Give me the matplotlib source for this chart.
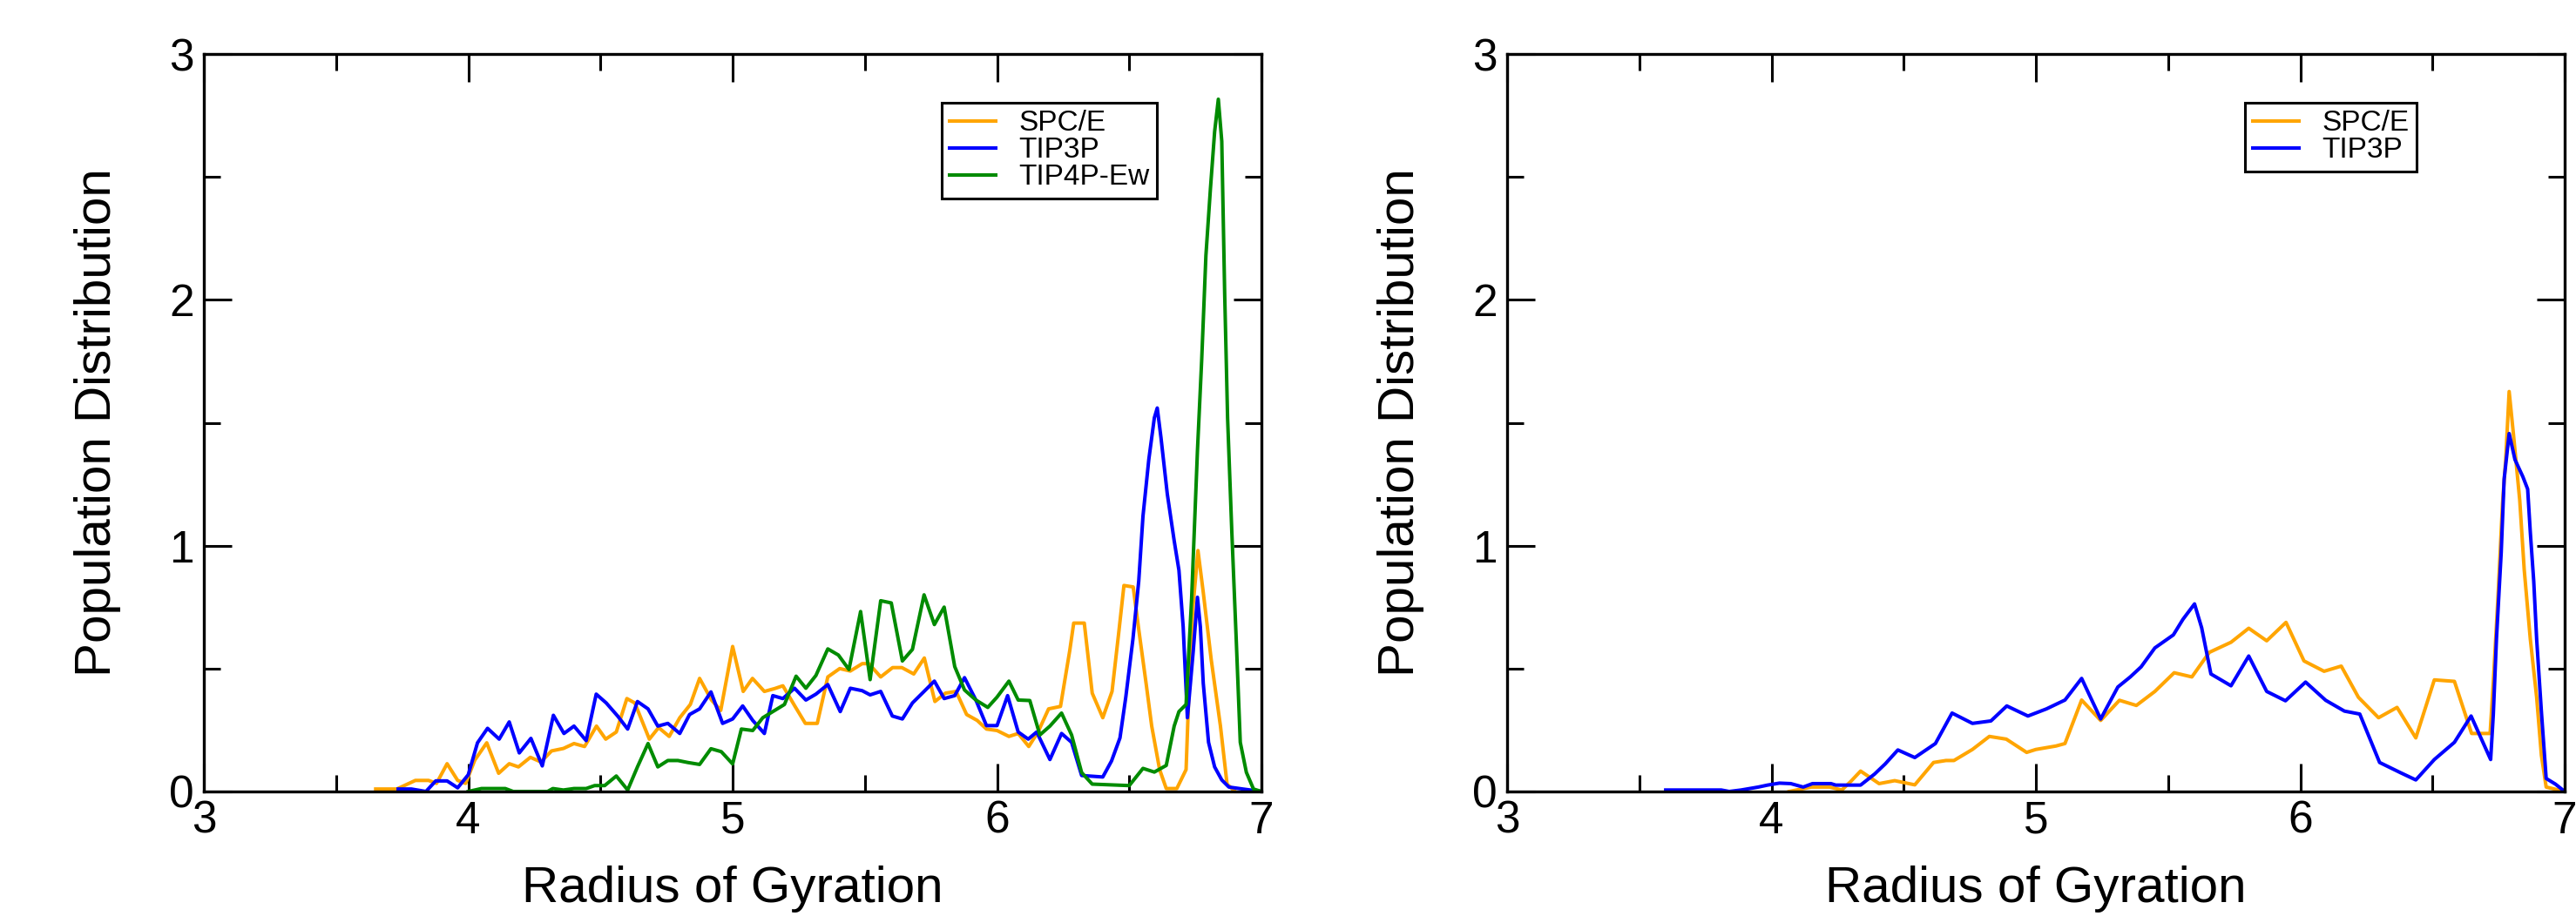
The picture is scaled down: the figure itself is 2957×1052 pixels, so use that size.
import matplotlib
matplotlib.use("Agg")
import matplotlib.pyplot as plt
from matplotlib.ticker import MultipleLocator

plt.rcParams['font.family'] = ['Liberation Sans', 'DejaVu Sans']

# ---------------- Left panel data ----------------
left_spce_x = [3.65, 3.73, 3.80, 3.85, 3.88, 3.92, 3.96, 3.99, 4.025, 4.07, 4.115, 4.155, 4.19, 4.235,
               4.275, 4.315, 4.36, 4.40, 4.44, 4.485, 4.52, 4.56, 4.60, 4.63, 4.685, 4.72, 4.76, 4.80,
               4.84, 4.875, 4.92, 4.955, 5.0, 5.04, 5.075, 5.12, 5.16, 5.19, 5.235, 5.275, 5.32, 5.36,
               5.405, 5.445, 5.49, 5.515, 5.56, 5.605, 5.64, 5.685, 5.725, 5.765, 5.805, 5.845, 5.885,
               5.925, 5.96, 6.0, 6.045, 6.08, 6.12, 6.155, 6.195, 6.24, 6.275, 6.29, 6.33, 6.36, 6.40,
               6.435, 6.46, 6.48, 6.515, 6.535, 6.565, 6.585, 6.615, 6.64, 6.68, 6.715, 6.725, 6.74,
               6.76, 6.78, 6.81, 6.845, 6.87, 6.90]
left_spce_y = [0.01, 0.01, 0.045, 0.045, 0.033, 0.113, 0.045, 0.033, 0.128, 0.198, 0.074, 0.113, 0.10, 0.139,
               0.12, 0.165, 0.175, 0.195, 0.183, 0.266, 0.213, 0.242, 0.378, 0.36, 0.213, 0.26, 0.224, 0.30,
               0.354, 0.46, 0.372, 0.33, 0.59, 0.407, 0.46, 0.407, 0.419, 0.43, 0.348, 0.277, 0.277, 0.466,
               0.50, 0.49, 0.52, 0.52, 0.466, 0.504, 0.504, 0.478, 0.543, 0.366, 0.40, 0.407, 0.313,
               0.289, 0.254, 0.248, 0.224, 0.236, 0.183, 0.242, 0.336, 0.346, 0.573, 0.685, 0.685, 0.40, 0.30,
               0.407, 0.643, 0.838, 0.832, 0.667, 0.43, 0.266, 0.089, 0.012, 0.012, 0.089, 0.384, 0.738,
               0.98, 0.81, 0.537, 0.266, 0.03, 0.0]

left_tip3p_x = [3.735, 3.785, 3.84, 3.877, 3.92, 3.96, 4.0, 4.035, 4.073, 4.117, 4.155, 4.193, 4.237, 4.28,
                4.322, 4.362, 4.40, 4.446, 4.484, 4.522, 4.565, 4.603, 4.64, 4.68, 4.717, 4.755, 4.80,
                4.837, 4.875, 4.918, 4.962, 5.0, 5.038, 5.076, 5.12, 5.152, 5.19, 5.234, 5.277, 5.315,
                5.36, 5.407, 5.445, 5.49, 5.52, 5.56, 5.604, 5.642, 5.68, 5.724, 5.763, 5.80, 5.84, 5.877,
                5.92, 5.96, 6.0, 6.04, 6.08, 6.118, 6.15, 6.2, 6.244, 6.282, 6.32, 6.40, 6.433, 6.465,
                6.487, 6.514, 6.536, 6.552, 6.574, 6.595, 6.606, 6.62, 6.644, 6.67, 6.688, 6.704, 6.72,
                6.742, 6.758, 6.769, 6.78, 6.80, 6.823, 6.85, 6.877, 6.93, 7.0]
left_tip3p_y = [0.01, 0.01, 0.0, 0.043, 0.043, 0.015, 0.068, 0.198, 0.257, 0.213, 0.283, 0.157, 0.216, 0.104,
                0.31, 0.236, 0.266, 0.207, 0.396, 0.36, 0.307, 0.254, 0.366, 0.336, 0.266, 0.277, 0.236,
                0.313, 0.336, 0.405, 0.277, 0.295, 0.348, 0.289, 0.236, 0.39, 0.378, 0.42, 0.372, 0.396,
                0.435, 0.325, 0.42, 0.41, 0.393, 0.407, 0.307, 0.295, 0.36, 0.407, 0.449, 0.378, 0.39, 0.463,
                0.372, 0.268, 0.268, 0.39, 0.242, 0.213, 0.242, 0.13, 0.236, 0.20, 0.065, 0.059, 0.124, 0.218,
                0.384, 0.62, 0.856, 1.12, 1.35, 1.52, 1.56, 1.44, 1.21, 1.02, 0.90, 0.67, 0.30,
                0.57, 0.79, 0.67, 0.44, 0.20, 0.10, 0.047, 0.018, 0.01, 0.0]

left_tip4p_x = [4.0, 4.05, 4.14, 4.17, 4.30, 4.32, 4.36, 4.40, 4.446, 4.478, 4.516, 4.56, 4.603, 4.64, 4.68,
                4.717, 4.755, 4.793, 4.83, 4.875, 4.918, 4.957, 5.0, 5.033, 5.076, 5.114, 5.152, 5.196,
                5.24, 5.277, 5.315, 5.36, 5.40, 5.44, 5.484, 5.52, 5.56, 5.60, 5.642, 5.68, 5.724, 5.763,
                5.80, 5.84, 5.877, 5.92, 5.965, 6.0, 6.045, 6.08, 6.124, 6.162, 6.2, 6.244, 6.282, 6.32,
                6.36, 6.5, 6.552, 6.595, 6.64, 6.67, 6.688, 6.715, 6.725, 6.736, 6.758, 6.774, 6.79,
                6.807, 6.823, 6.837, 6.85, 6.861, 6.872, 6.888, 6.905, 6.92, 6.943, 6.97, 7.0]
left_tip4p_y = [0.0, 0.012, 0.012, 0.0, 0.0, 0.012, 0.006, 0.012, 0.012, 0.024, 0.024, 0.063, 0.006, 0.10, 0.195,
                0.10, 0.126, 0.126, 0.118, 0.11, 0.174, 0.162, 0.112, 0.254, 0.248, 0.30, 0.325, 0.354,
                0.469, 0.42, 0.472, 0.58, 0.555, 0.496, 0.732, 0.455, 0.776, 0.767, 0.531, 0.578, 0.80, 0.679,
                0.75, 0.508, 0.413, 0.372, 0.342, 0.384, 0.449, 0.372, 0.37, 0.23, 0.266, 0.319, 0.23, 0.077,
                0.03, 0.024, 0.094, 0.079, 0.106, 0.266, 0.325, 0.354, 0.56, 0.785, 1.386, 1.754, 2.18,
                2.45, 2.684, 2.816, 2.645, 2.025, 1.52, 1.056, 0.61, 0.20, 0.078, 0.01, 0.0]

# ---------------- Right panel data ----------------
right_spce_x = [4.067, 4.15, 4.22, 4.266, 4.30, 4.337, 4.407, 4.466, 4.542, 4.613, 4.66, 4.69, 4.76, 4.824,
                4.888, 4.965, 5.0, 5.076, 5.11, 5.173, 5.245, 5.316, 5.38, 5.45, 5.523, 5.59, 5.656, 5.738,
                5.805, 5.873, 5.946, 6.014, 6.09, 6.155, 6.22, 6.296, 6.366, 6.437, 6.507, 6.583, 6.648,
                6.718, 6.73, 6.748, 6.765, 6.777, 6.79, 6.806, 6.83, 6.847, 6.87, 6.894, 6.912, 6.93,
                6.977, 7.0]
right_spce_y = [0.0, 0.018, 0.018, 0.006, 0.041, 0.083, 0.032, 0.044, 0.027, 0.118, 0.126, 0.126, 0.171, 0.224,
                0.213, 0.159, 0.171, 0.185, 0.195, 0.372, 0.289, 0.371, 0.35, 0.407, 0.483, 0.466, 0.566, 0.607,
                0.664, 0.613, 0.688, 0.531, 0.489, 0.51, 0.383, 0.30, 0.342, 0.218, 0.454, 0.448, 0.236,
                0.236, 0.442, 0.796, 1.173, 1.35, 1.627, 1.456, 1.185, 0.902, 0.62, 0.383, 0.147, 0.018,
                0.006, 0.0]

right_tip3p_x = [3.60, 3.81, 3.84, 3.885, 3.95, 3.985, 4.03, 4.073, 4.12, 4.155, 4.225, 4.243, 4.337, 4.39,
                 4.43, 4.478, 4.542, 4.62, 4.683, 4.76, 4.83, 4.89, 4.97, 5.04, 5.11, 5.173, 5.245, 5.31,
                 5.357, 5.398, 5.45, 5.52, 5.556, 5.60, 5.627, 5.662, 5.738, 5.805, 5.873, 5.944, 6.02,
                 6.096, 6.167, 6.225, 6.30, 6.378, 6.437, 6.507, 6.583, 6.646, 6.72, 6.73, 6.742, 6.76,
                 6.771, 6.79, 6.812, 6.842, 6.86, 6.87, 6.883, 6.894, 6.912, 6.93, 6.965, 7.0]
right_tip3p_y = [0.006, 0.006, 0.0, 0.006, 0.018, 0.026, 0.034, 0.032, 0.018, 0.032, 0.032, 0.026, 0.026, 0.071,
                 0.112, 0.169, 0.138, 0.195, 0.319, 0.277, 0.287, 0.348, 0.307, 0.336, 0.372, 0.46, 0.295, 0.425,
                 0.466, 0.507, 0.584, 0.637, 0.70, 0.763, 0.666, 0.478, 0.43, 0.551, 0.407, 0.369, 0.445,
                 0.371, 0.327, 0.315, 0.118, 0.077, 0.047, 0.13, 0.20, 0.307, 0.13, 0.312, 0.62, 0.973,
                 1.27, 1.456, 1.35, 1.28, 1.23, 1.055, 0.855, 0.62, 0.324, 0.053, 0.03, 0.0]

xticks = [3, 4, 5, 6, 7]
yticks = [0, 1, 2, 3]
xlabel = "Radius of Gyration"
ylabel = "Population Distribution"

ORANGE = '#FFA500'
BLUE = '#0000FF'
GREEN = '#008B00'

fig = plt.figure(figsize=(29.57, 10.52), dpi=100)
W, H = 2957, 1052
axL = fig.add_axes([234 / W, (H - 909) / H, 1214 / W, 847 / H])
axR = fig.add_axes([1730 / W, (H - 909) / H, 1214 / W, 847 / H])

lw = 2.9
axL.plot(left_spce_x, left_spce_y, color=ORANGE, lw=lw, label='SPC/E')
axL.plot(left_tip3p_x, left_tip3p_y, color=BLUE, lw=lw, label='TIP3P')
axL.plot(left_tip4p_x, left_tip4p_y, color=GREEN, lw=lw, label='TIP4P-Ew')

axR.plot(right_spce_x, right_spce_y, color=ORANGE, lw=lw, label='SPC/E')
axR.plot(right_tip3p_x, right_tip3p_y, color=BLUE, lw=lw, label='TIP3P')

for ax in (axL, axR):
    ax.set_xlim(3, 7)
    ax.set_ylim(0, 3)
    ax.set_xticks(xticks)
    ax.set_yticks(yticks)
    ax.xaxis.set_minor_locator(MultipleLocator(0.5))
    ax.yaxis.set_minor_locator(MultipleLocator(0.5))
    ax.tick_params(which='both', direction='in', top=True, right=True, width=2.2, labelsize=37)
    ax.tick_params(which='major', length=23)
    ax.tick_params(which='minor', length=13.5)
    ax.tick_params(axis='x', pad=7)
    ax.tick_params(axis='y', pad=8)
    for s in ax.spines.values():
        s.set_linewidth(2.4)
    ax.set_xlabel(xlabel, fontsize=42)
    ax.set_ylabel(ylabel, fontsize=42)
    ax.xaxis.set_label_coords(0.5, -0.10)
    ax.yaxis.set_label_coords(-0.078, 0.5)
    leg = ax.legend(loc='upper left', bbox_to_anchor=(0.698, 0.934), fontsize=24,
                    frameon=True, fancybox=False, shadow=False, framealpha=1,
                    edgecolor='black', borderpad=0.25, labelspacing=0.0,
                    handlelength=1.6, handletextpad=0.8, borderaxespad=0.0)
    leg.get_frame().set_linewidth(2.2)

fig.savefig('out.png', dpi=100)
